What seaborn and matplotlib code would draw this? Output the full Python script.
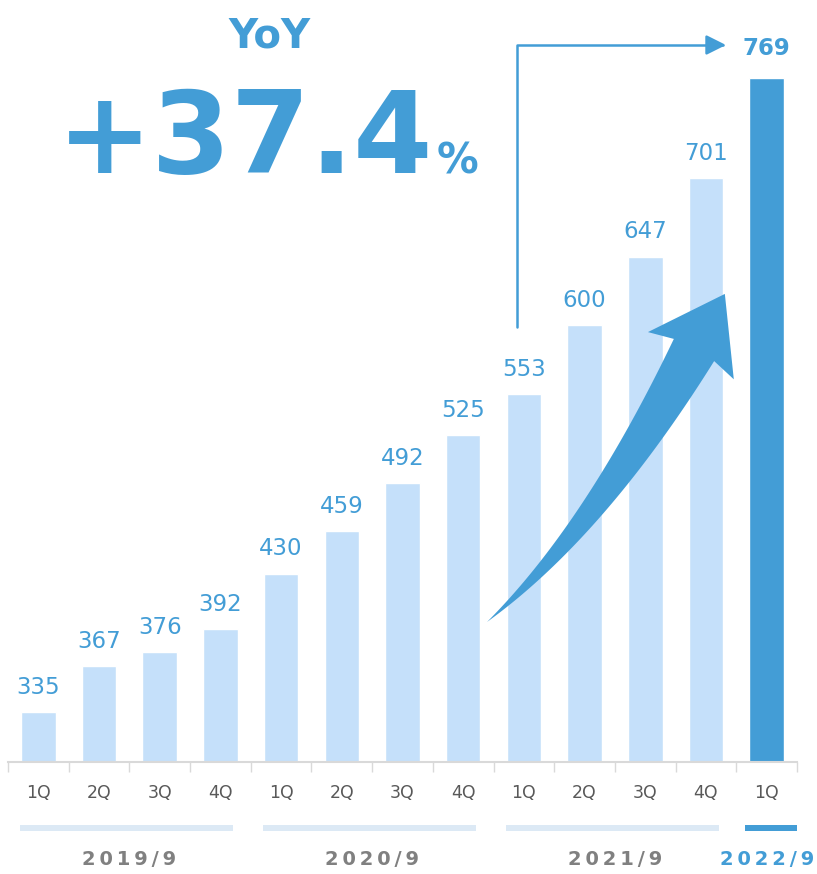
import numpy as np
import pandas as pd
import matplotlib
matplotlib.use("Agg")
import matplotlib.pyplot as plt
from matplotlib.patches import Polygon, Rectangle
import seaborn as sns

# data
fiscal_years = ["2019/9", "2019/9", "2019/9", "2019/9",
                "2020/9", "2020/9", "2020/9", "2020/9",
                "2021/9", "2021/9", "2021/9", "2021/9",
                "2022/9"]
quarters = ["1Q", "2Q", "3Q", "4Q", "1Q", "2Q", "3Q", "4Q",
            "1Q", "2Q", "3Q", "4Q", "1Q"]
sales = [335, 367, 376, 392, 430, 459, 492, 525, 553, 600, 647, 701, 769]
year_labels = ["2019/9", "2020/9", "2021/9", "2022/9"]
yoy_text = "+37.4"

BLUE = "#439dd6"
LIGHT = "#c5e0fa"
YEAR_LIGHT = "#dce9f5"
GRAY_TXT = "#808080"
TICK_TXT = "#595959"

W, H = 817, 874

df = pd.DataFrame({
    "slot": [f"{y} {q}" for y, q in zip(fiscal_years, quarters)],
    "quarter": quarters,
    "sales": sales,
})
latest = len(df) - 1
bar_colors = [BLUE if i == latest else LIGHT for i in range(len(df))]

sns.set_theme(style="white")
plt.rcParams["font.family"] = ["DejaVu Sans"]

fig = plt.figure(figsize=(W / 100, H / 100), dpi=100)
ax = fig.add_axes([8 / W, 112 / H, 789 / W, 729 / H])

sns.barplot(data=df, x="slot", y="sales", hue="slot", palette=bar_colors,
            width=0.57, saturation=1, legend=False, ax=ax)

ax.set_xlim(-0.5, len(df) - 0.5)
ax.set_ylim(301, 800)
ax.set_xlabel("")
ax.set_ylabel("")
ax.set_yticks([])
for s in ["left", "right", "top"]:
    ax.spines[s].set_visible(False)
ax.spines["bottom"].set_color("#d9d9d9")
ax.spines["bottom"].set_linewidth(1.5)

ax.set_xticks(range(len(df)))
ax.set_xticklabels(quarters, fontsize=12.5, color=TICK_TXT)
ax.set_xticks(np.arange(-0.5, len(df), 1), minor=True)
ax.tick_params(axis="x", which="major", length=0, pad=16)
ax.tick_params(axis="x", which="minor", bottom=True, length=7, width=1,
               color="#d9d9d9", direction="out")

# value labels
for i, v in enumerate(sales):
    if i == latest:
        ax.annotate(f"{v}", (i, v), xytext=(0, 17), textcoords="offset points",
                    ha="center", va="baseline", fontsize=16.5,
                    fontweight="bold", color=BLUE)
    else:
        ax.annotate(f"{v}", (i, v), xytext=(0, 13), textcoords="offset points",
                    ha="center", va="baseline", fontsize=16.5, color=BLUE)

# fiscal year bands and labels under the axis
xt = ax.get_xaxis_transform()
for yl in year_labels:
    idx = [i for i, y in enumerate(fiscal_years) if y == yl]
    is_last = yl == year_labels[-1]
    left = idx[0] - 0.36 if is_last else idx[0] - 0.3
    right = len(df) - 0.5 if is_last else idx[-1] + 0.21
    col = BLUE if is_last else YEAR_LIGHT
    ax.add_patch(Rectangle((left, -0.095), right - left, 0.009, transform=xt,
                           color=col, clip_on=False, lw=0))
    txt_col = BLUE if is_last else GRAY_TXT
    ax.text(np.mean(idx), -0.134, "\u2009".join(yl), transform=xt,
            ha="center", va="center", fontsize=14, fontweight="bold",
            color=txt_col)


def fp(x, y):
    return (x / W, 1 - y / H)


# headline
fig.text(*fp(270, 48), "YoY", ha="center", va="baseline", fontsize=29,
         fontweight="bold", color=BLUE)
fig.text(*fp(433, 173), yoy_text, ha="right", va="baseline", fontsize=82,
         fontweight="bold", color=BLUE)
fig.text(*fp(437, 173), "%", ha="left", va="baseline", fontsize=30,
         fontweight="bold", color=BLUE)

# bracket arrow from 2021/9 1Q to 2022/9 1Q
ax.annotate("", xy=fp(726, 45), xycoords="figure fraction",
            xytext=fp(517, 327), textcoords="figure fraction",
            arrowprops=dict(arrowstyle="-|>,head_length=0.6,head_width=0.3",
                            connectionstyle="angle,angleA=90,angleB=0,rad=0",
                            color=BLUE, lw=1.8, shrinkA=0, shrinkB=0,
                            mutation_scale=20))

# curved growth arrow (tapered shaft + head)
P0 = np.array([487.0, 622.0])
P1 = np.array([595.0, 530.0])
P2 = np.array([694.0, 350.0])
t = np.linspace(0, 1, 60)
pts = ((1 - t) ** 2)[:, None] * P0 + (2 * (1 - t) * t)[:, None] * P1 + (t ** 2)[:, None] * P2
der = (2 * (1 - t))[:, None] * (P1 - P0) + (2 * t)[:, None] * (P2 - P1)
der = der / np.linalg.norm(der, axis=1)[:, None]
nrm = np.column_stack([-der[:, 1], der[:, 0]])
half = 23 * t ** 1.0
side_a = pts + nrm * half[:, None]
side_b = pts - nrm * half[:, None]
d_end = der[-1]
n_end = nrm[-1]
barb_a = P2 + n_end * 49 - d_end * 6.5
barb_b = P2 - n_end * 49 - d_end * 6.5
tip = P2 + d_end * 64
outline = np.vstack([side_a, barb_a, tip, barb_b, side_b[::-1]])
outline_fig = np.column_stack([outline[:, 0] / W, 1 - outline[:, 1] / H])
fig.add_artist(Polygon(outline_fig, closed=True, transform=fig.transFigure,
                       facecolor=BLUE, edgecolor="none"))

fig.savefig("out.png", dpi=100)
